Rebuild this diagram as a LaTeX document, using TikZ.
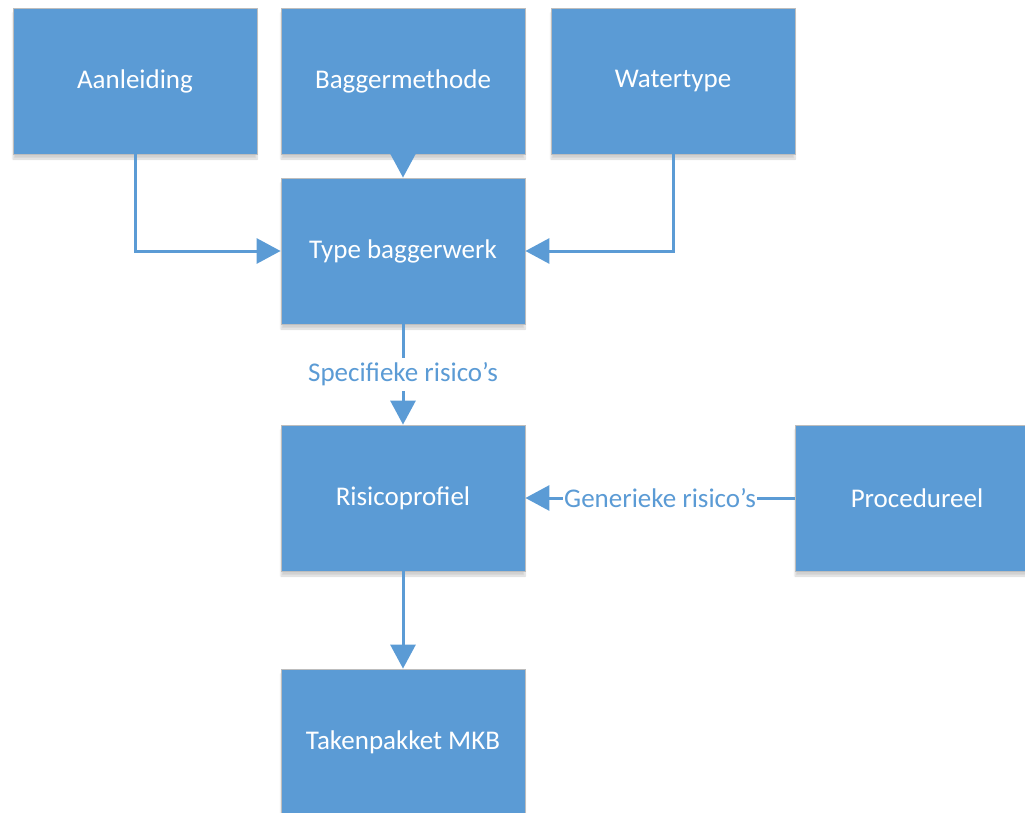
\documentclass[tikz,border=0pt]{standalone}
\usepackage{fontspec}
\setmainfont{Carlito}
\usetikzlibrary{arrows.meta,shadows.blur}
\definecolor{boxblue}{HTML}{5B9BD5}
\definecolor{edgegray}{HTML}{BDBDBD}
\tikzset{
  box/.style={rectangle, fill=boxblue, draw=edgegray, line width=0.8pt,
    minimum width=244pt, minimum height=146pt, inner sep=0pt,
    text=white, font=\fontsize{27}{32}\selectfont,
    blur shadow={shadow xshift=0pt, shadow yshift=-5pt, shadow blur steps=8, shadow opacity=18}},
  arr/.style={draw=boxblue, line width=3pt, -{Triangle[length=24pt,width=25pt]}},
  lbl/.style={fill=white, text=boxblue, inner xsep=1pt, inner ysep=5pt,
    font=\fontsize{27}{32}\selectfont}
}
\begin{document}
\begin{tikzpicture}[x=1pt,y=-1pt]
\clip (0,0) rectangle (1025,813);
\node[box] (a) at (135,81) {Aanleiding};
\node[box] (b) at (403,81) {Baggermethode};
\node[box] (w) at (673,81) {Watertype};
\node[box] (t) at (403,251) {Type baggerwerk};
\node[box] (r) at (403,498) {Risicoprofiel};
\node[box] (p) at (917,498) {Procedureel};
\node[box] (k) at (403,742) {Takenpakket MKB};
\draw[arr] (a) |- (t);
\draw[arr] (w) |- (t);
\draw[arr] (b) -- (t);
\draw[arr] (t) -- node[lbl]{Specifieke risico’s} (r);
\draw[arr] (p) -- node[lbl]{Generieke risico’s} (r);
\draw[arr] (r) -- (k);
\end{tikzpicture}
\end{document}
